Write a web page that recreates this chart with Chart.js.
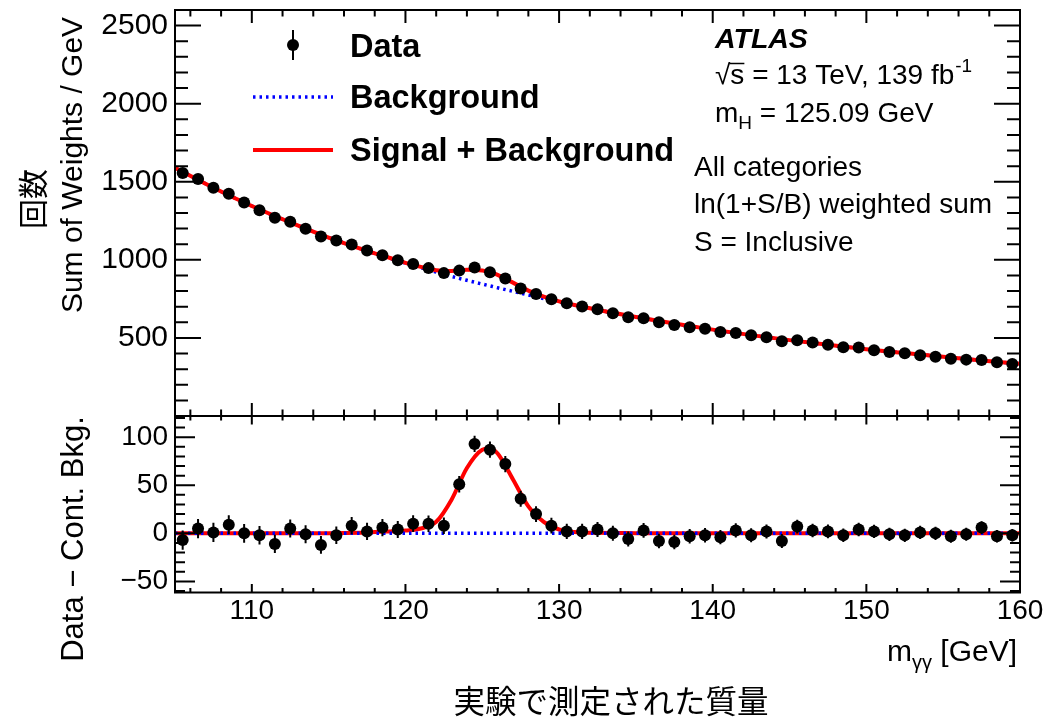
<!DOCTYPE html>
<html>
<head>
<meta charset="utf-8">
<script src="https://cdn.jsdelivr.net/npm/chart.js@4.4.1/dist/chart.umd.min.js"></script>
<style>
  body { margin: 0; background: #fff; }
  #wrap { position: relative; width: 1048px; height: 728px; overflow: hidden; background: #fff; }
  canvas { position: absolute; left: 0; }
  #top { top: 0; }
  #bottom { top: 410px; }
</style>
</head>
<body>
<div id="wrap">
  <canvas id="top" width="1048" height="418"></canvas>
  <canvas id="bottom" width="1048" height="318"></canvas>
</div>
<script>
// values (1 GeV bins)
const massBins = [105.5, 106.5, 107.5, 108.5, 109.5, 110.5, 111.5, 112.5, 113.5, 114.5,
  115.5, 116.5, 117.5, 118.5, 119.5, 120.5, 121.5, 122.5, 123.5, 124.5,
  125.5, 126.5, 127.5, 128.5, 129.5, 130.5, 131.5, 132.5, 133.5, 134.5,
  135.5, 136.5, 137.5, 138.5, 139.5, 140.5, 141.5, 142.5, 143.5, 144.5,
  145.5, 146.5, 147.5, 148.5, 149.5, 150.5, 151.5, 152.5, 153.5, 154.5,
  155.5, 156.5, 157.5, 158.5, 159.5];

const dataWeights = [1556, 1517, 1461, 1423, 1367, 1318, 1269, 1244, 1199, 1149,
  1124, 1098, 1060, 1030, 998, 974, 947, 915, 931, 951,
  921, 880, 816, 782, 748, 722, 701, 684, 658, 633,
  626, 600, 583, 568, 558, 538, 532, 517, 504, 479,
  485, 470, 457, 440, 438, 421, 410, 402, 389, 380,
  367, 361, 359, 344, 333];

// data minus continuum background
const residuals = [-7, 5, 1, 9, 0, -2, -11, 5, -1, -12,
  -2, 8, 2, 6, 4, 10, 10, 8, 51, 93,
  87, 72, 36, 20, 8, 2, 2, 4, 0, -6,
  3, -8, -9, -3, -2, -4, 3, -2, 2, -8,
  7, 3, 2, -2, 4, 2, -1, -2, 1, 0,
  -3, -1, 6, -3, -2];

const binErrors = [10, 10, 10, 9.8, 9.7, 9.6, 9.5, 9.4, 9.3, 9.2,
  9.1, 9.0, 9.0, 8.9, 8.8, 8.7, 8.6, 8.6, 8.5, 8.5,
  8.4, 8.4, 8.3, 8.2, 8.1, 8.0, 7.9, 7.9, 7.8, 7.8,
  7.7, 7.6, 7.6, 7.5, 7.5, 7.4, 7.4, 7.3, 7.3, 7.2,
  7.2, 7.1, 7.1, 7.0, 7.0, 6.9, 6.9, 6.9, 6.8, 6.8,
  6.7, 6.7, 6.6, 6.6, 6.5];

// fitted curves
const curveMass = [105, 107.5, 110, 112.5, 115, 117.5, 119, 120, 121, 122, 123, 124, 125, 125.5, 126, 127, 128, 129, 130, 131,
  132.5, 135, 137.5, 140, 142.5, 145, 147.5, 150, 152.5, 155, 157.5, 160];
const bkgCurve = [1590, 1462, 1345, 1240, 1143, 1057, 1010, 978, 950, 922, 894, 869, 845, 833, 821, 798, 775, 752, 730, 710,
  680, 634, 592, 553, 518, 486, 456, 428, 403, 379, 356, 334];
const sbCurve = [1590, 1462, 1345, 1240, 1143, 1058, 1012, 981, 955, 934, 929, 937, 932, 921, 904, 854, 803, 764, 734, 711,
  680, 634, 592, 553, 518, 486, 456, 428, 403, 379, 356, 334];
const sigCurve = [0, 0, 0, 0, 0.2, 0.8, 2, 3, 5, 12, 35, 68, 87, 88.5, 83, 56, 28, 12, 4, 1.5,
  0.5, 0.2, 0, 0, 0, 0, 0, 0, 0, 0, 0, 0];
const zeroMass = [105, 160];
const zeroLine = [0, 0];

const xTicks = [110, 120, 130, 140, 150, 160];
const topYTicks = [500, 1000, 1500, 2000, 2500];
const bottomYTicks = [-50, 0, 50, 100];

const SANS = '"Liberation Sans", Arial, sans-serif';
const CJK = '"Noto Sans CJK JP", sans-serif';

const pts = (xs, ys) => xs.map((x, i) => ({ x: x, y: ys[i] }));

// pin the axis box and drop the label overhang padding so the frame sits where the reference has it
function pinWidth(w) {
  return s => { s.width = w; s.paddingTop = 0; s.paddingBottom = 0; s.paddingLeft = 0; s.paddingRight = 0; };
}
function pinHeight(h) {
  return s => { s.height = h; s.paddingTop = 0; s.paddingBottom = 0; s.paddingLeft = 0; s.paddingRight = 0; };
}

// ROOT style frame with inward ticks on all four sides
function frameTicks(o) {
  return {
    id: 'frameTicks',
    afterDatasetsDraw(chart) {
      const { ctx, chartArea: a, scales: { x, y } } = chart;
      ctx.save();
      ctx.strokeStyle = '#000';
      ctx.lineWidth = 2;
      ctx.beginPath();
      for (let v = 106; v <= 160; v += 2) {
        const px = x.getPixelForValue(v);
        const len = v % 10 === 0 ? o.xMajor : o.xMinor;
        ctx.moveTo(px, a.bottom); ctx.lineTo(px, a.bottom - len);
        ctx.moveTo(px, a.top); ctx.lineTo(px, a.top + len);
      }
      for (let v = o.yFirst; v < y.max; v += o.yStep) {
        const py = y.getPixelForValue(v);
        const len = Math.abs(v % o.yMajorStep) < 1e-6 ? o.yMajor : o.yMinor;
        ctx.moveTo(a.left, py); ctx.lineTo(a.left + len, py);
        ctx.moveTo(a.right, py); ctx.lineTo(a.right - len, py);
      }
      ctx.stroke();
      ctx.strokeRect(a.left, a.top, a.right - a.left, a.bottom - a.top);
      ctx.restore();
    }
  };
}

function errorBars(values) {
  return {
    id: 'errorBars',
    afterDatasetsDraw(chart) {
      const { ctx, scales: { x, y } } = chart;
      ctx.save();
      ctx.strokeStyle = '#000';
      ctx.lineWidth = 2;
      ctx.beginPath();
      massBins.forEach((m, i) => {
        const px = x.getPixelForValue(m);
        ctx.moveTo(px, y.getPixelForValue(values[i] - binErrors[i]));
        ctx.lineTo(px, y.getPixelForValue(values[i] + binErrors[i]));
      });
      ctx.stroke();
      ctx.restore();
    }
  };
}

function text(ctx, s, x, y, font, align, baseline) {
  ctx.font = font;
  ctx.textAlign = align || 'left';
  ctx.textBaseline = baseline || 'alphabetic';
  ctx.fillText(s, x, y);
  return ctx.measureText(s).width;
}

function rotText(ctx, s, x, y, font) {
  ctx.save();
  ctx.translate(x, y);
  ctx.rotate(-Math.PI / 2);
  text(ctx, s, 0, 0, font, 'center', 'middle');
  ctx.restore();
}

const topLabels = {
  id: 'topLabels',
  afterDraw(chart) {
    const ctx = chart.ctx;
    ctx.save();
    ctx.fillStyle = '#000';
    rotText(ctx, '回数', 33, 199, '30px ' + CJK);
    rotText(ctx, 'Sum of Weights / GeV', 74, 165, '30px ' + SANS);

    // legend
    ctx.strokeStyle = '#000';
    ctx.lineWidth = 2;
    ctx.beginPath(); ctx.moveTo(293, 30); ctx.lineTo(293, 60); ctx.stroke();
    ctx.beginPath(); ctx.arc(293, 45, 6, 0, 2 * Math.PI); ctx.fill();
    ctx.strokeStyle = '#0000ff';
    ctx.lineWidth = 3.5;
    ctx.setLineDash([2.5, 4]);
    ctx.beginPath(); ctx.moveTo(253, 97); ctx.lineTo(333, 97); ctx.stroke();
    ctx.setLineDash([]);
    ctx.strokeStyle = '#ff0000';
    ctx.lineWidth = 4;
    ctx.beginPath(); ctx.moveTo(253, 150); ctx.lineTo(333, 150); ctx.stroke();
    const bold = 'bold 32.5px ' + SANS;
    text(ctx, 'Data', 350, 57, bold);
    text(ctx, 'Background', 350, 108, bold);
    text(ctx, 'Signal + Background', 350, 161, bold);

    // ATLAS block
    const reg = '28px ' + SANS;
    const small = '19px ' + SANS;
    text(ctx, 'ATLAS', 715, 48, 'italic bold 28.5px ' + SANS);
    const wr = text(ctx, '√', 715, 84, reg);
    const ws = text(ctx, 's', 715 + wr, 84, reg);
    ctx.strokeStyle = '#000';
    ctx.lineWidth = 1.5;
    ctx.beginPath(); ctx.moveTo(715 + wr - 1, 63.5); ctx.lineTo(715 + wr + ws, 63.5); ctx.stroke();
    const w = text(ctx, ' = 13 TeV, 139 fb', 715 + wr + ws, 84, reg);
    text(ctx, '-1', 715 + wr + ws + w + 1, 72, small);
    const wm = text(ctx, 'm', 715, 122, reg);
    const wh = text(ctx, 'H', 715 + wm, 129, small);
    text(ctx, ' = 125.09 GeV', 715 + wm + wh, 122, reg);
    text(ctx, 'All categories', 694, 176, reg);
    text(ctx, 'ln(1+S/B) weighted sum', 694, 213, reg);
    text(ctx, 'S = Inclusive', 694, 251, reg);
    ctx.restore();
  }
};

const OFF = 410; // page y of the lower canvas
const bottomLabels = {
  id: 'bottomLabels',
  afterDraw(chart) {
    const ctx = chart.ctx;
    ctx.save();
    ctx.fillStyle = '#000';
    rotText(ctx, 'Data − Cont. Bkg.', 74, 539 - OFF, '31px ' + SANS);
    // m_yy [GeV], right aligned on the frame
    const main = '30px ' + SANS, sub = '20px ' + SANS;
    ctx.font = main;
    const w1 = ctx.measureText('m').width, w3 = ctx.measureText(' [GeV]').width;
    ctx.font = sub;
    const w2 = ctx.measureText('γγ').width;
    const x0 = 1017 - w1 - w2 - w3;
    text(ctx, 'm', x0, 661 - OFF, main);
    text(ctx, 'γγ', x0 + w1, 669 - OFF, sub);
    text(ctx, ' [GeV]', x0 + w1 + w2, 661 - OFF, main);
    text(ctx, '実験で測定された質量', 611, 701 - OFF, '31.5px ' + CJK, 'center', 'middle');
    ctx.restore();
  }
};

const common = {
  responsive: false,
  animation: false,
  devicePixelRatio: 1,
  plugins: { legend: { display: false }, tooltip: { enabled: false } },
  elements: { point: { hoverRadius: 0 } }
};

new Chart(document.getElementById('top'), {
  type: 'line',
  data: {
    datasets: [
      { label: 'Data', data: pts(massBins, dataWeights), showLine: false, pointRadius: 6,
        pointBackgroundColor: '#000', pointBorderWidth: 0, order: 0 },
      { label: 'Signal + Background', data: pts(curveMass, sbCurve), borderColor: '#ff0000', borderWidth: 4,
        pointRadius: 0, cubicInterpolationMode: 'monotone', order: 1 },
      { label: 'Background', data: pts(curveMass, bkgCurve), borderColor: '#0000ff', borderWidth: 3.5,
        borderDash: [2.5, 4], pointRadius: 0, cubicInterpolationMode: 'monotone', order: 2 }
    ]
  },
  options: Object.assign({}, common, {
    layout: { padding: { left: 0, top: 10, right: 28, bottom: 2 }, autoPadding: false },
    scales: {
      x: { type: 'linear', min: 105, max: 160, display: false },
      y: {
        type: 'linear', min: 0, max: 2600,
        grid: { display: false, drawTicks: false }, border: { display: false },
        afterFit: pinWidth(175),
        afterBuildTicks: s => { s.ticks = topYTicks.map(v => ({ value: v })); },
        ticks: { padding: 7, color: '#000', font: { family: SANS, size: 30 }, callback: v => String(v) }
      }
    }
  }),
  plugins: [errorBars(dataWeights), frameTicks({ xMajor: 13, xMinor: 6.5, yFirst: 100, yStep: 100, yMajorStep: 500, yMajor: 26, yMinor: 13 }), topLabels]
});

new Chart(document.getElementById('bottom'), {
  type: 'line',
  data: {
    datasets: [
      { label: 'Data', data: pts(massBins, residuals), showLine: false, pointRadius: 6,
        pointBackgroundColor: '#000', pointBorderWidth: 0, order: 0 },
      { label: 'Background', data: pts(zeroMass, zeroLine), borderColor: '#0000ff', borderWidth: 3.5,
        borderDash: [2.5, 4], pointRadius: 0, order: 1 },
      { label: 'Signal', data: pts(curveMass, sigCurve), borderColor: '#ff0000', borderWidth: 4,
        pointRadius: 0, cubicInterpolationMode: 'monotone', order: 2 }
    ]
  },
  options: Object.assign({}, common, {
    layout: { padding: { left: 0, top: 6, right: 28, bottom: 0 }, autoPadding: false },
    scales: {
      x: {
        type: 'linear', min: 105, max: 160,
        grid: { display: false, drawTicks: false }, border: { display: false },
        afterFit: pinHeight(135.5),
        afterBuildTicks: s => { s.ticks = xTicks.map(v => ({ value: v })); },
        ticks: { padding: 2, maxRotation: 0, autoSkip: false, color: '#000', font: { family: SANS, size: 28 },
          callback: v => String(v) }
      },
      y: {
        type: 'linear', min: -61.5, max: 122,
        grid: { display: false, drawTicks: false }, border: { display: false },
        afterFit: pinWidth(175),
        afterBuildTicks: s => { s.ticks = bottomYTicks.map(v => ({ value: v })); },
        ticks: { padding: 7, color: '#000', font: { family: SANS, size: 28 },
          callback: v => (v < 0 ? '−' + Math.abs(v) : String(v)) }
      }
    }
  }),
  plugins: [errorBars(residuals), frameTicks({ xMajor: 8.5, xMinor: 4.5, yFirst: -60, yStep: 10, yMajorStep: 50, yMajor: 20, yMinor: 10 }), bottomLabels]
});
</script>
</body>
</html>
